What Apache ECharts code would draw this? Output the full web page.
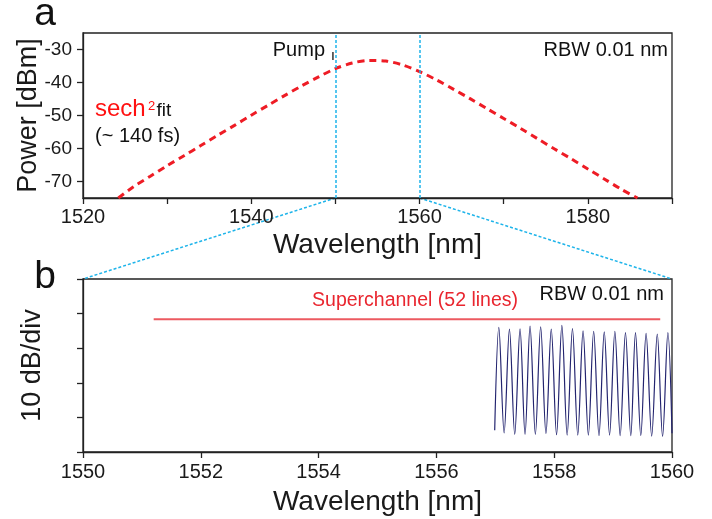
<!DOCTYPE html>
<html><head><meta charset="utf-8">
<script src="https://cdn.jsdelivr.net/npm/echarts@6/dist/echarts.min.js"></script>
<style>html,body{margin:0;padding:0;background:#fff}#c{width:712px;height:519px}</style>
</head><body><div id="c"></div>
<script>
// ---- Panel a: sech^2 fit (wavelength nm, power dBm) ----
const fitWavelength = [1524.2, 1526, 1528, 1530, 1532, 1534, 1536, 1538, 1540, 1542, 1544, 1546, 1548, 1550, 1552, 1554, 1556, 1558, 1560, 1562, 1564, 1566, 1568, 1570, 1572, 1574, 1576, 1578, 1580, 1582, 1584, 1585.9];
const fitPower = [-75.0, -71.6, -68.4, -65.2, -62.2, -59.1, -56.0, -53.0, -49.9, -46.9, -43.9, -41.0, -38.3, -35.8, -34.1, -33.3, -33.5, -34.7, -36.7, -39.2, -42.0, -44.9, -47.9, -50.9, -53.9, -57.0, -60.1, -63.1, -66.2, -69.3, -72.4, -75.0];
const pumpWavelengths = [1550, 1560];
const topXTicks = [1520, 1530, 1540, 1550, 1560, 1570, 1580, 1590];
const topXLabels = [1520, 1540, 1560, 1580];
const topYTicks = [-70, -60, -50, -40, -30];
const topXRange = [1520, 1590];
const topYRange = [-75, -25];

// ---- Panel b: superchannel (relative dB, 10 dB/div) ----
const bottomXRange = [1550, 1560];
const bottomYRange = [0, 50];
const superchannelWl = [1551.2, 1559.8];
const superchannelLevel = [38.4, 38.4];
const peakWl = [1557.06, 1557.24, 1557.42, 1557.59, 1557.77, 1557.95, 1558.13, 1558.31, 1558.49, 1558.67, 1558.85, 1559.03, 1559.21, 1559.38, 1559.56, 1559.75, 1559.93];
const peakLevel = [36.0, 35.5, 35.6, 36.4, 36.2, 35.5, 36.6, 35.7, 35.0, 34.9, 34.7, 34.9, 34.5, 34.5, 34.3, 34.1, 34.5];
const troughWl = [1557.15, 1557.33, 1557.505, 1557.68, 1557.86, 1558.04, 1558.22, 1558.40, 1558.58, 1558.76, 1558.94, 1559.12, 1559.30, 1559.47, 1559.655, 1559.84];
const troughLevel = [5.5, 5.1, 5.1, 5.1, 5.3, 5.0, 4.9, 4.9, 4.9, 4.7, 4.9, 4.7, 4.7, 4.7, 4.6, 4.5];
const spectrumStart = [1556.99, 6.3];
const spectrumEnd = [1560.0, 5.4];

const FONT = 'Liberation Sans, Arial, sans-serif';
const AX = '#222';

const fitData = fitWavelength.map((w, i) => [w, fitPower[i]]);
const spectrum = [spectrumStart];
peakWl.forEach((w, i) => {
  spectrum.push([w, peakLevel[i]]);
  if (i < troughWl.length) spectrum.push([troughWl[i], troughLevel[i]]);
});
spectrum.push(spectrumEnd);
const scData = superchannelWl.map((w, i) => [w, superchannelLevel[i]]);

const chart = echarts.init(document.getElementById('c'), null, {renderer: 'canvas'});

const axisCommon = {
  axisLine: {show: true, onZero: false, lineStyle: {color: AX, width: 1.3}},
  splitLine: {show: false},
  nameMoveOverlap: false
};
const plain = v => String(v);

chart.setOption({
  animation: false,
  backgroundColor: '#fff',
  textStyle: {fontFamily: FONT},
  grid: [
    {left: 83, top: 33, right: 40, height: 165, show: true, borderColor: AX, borderWidth: 1.3, containLabel: false},
    {left: 83, top: 279, right: 40, height: 173, show: true, borderColor: AX, borderWidth: 1.3, containLabel: false}
  ],
  xAxis: [
    Object.assign({}, axisCommon, {
      gridIndex: 0, type: 'value', min: topXRange[0], max: topXRange[1], interval: 10,
      axisTick: {show: true, inside: false, length: 6, lineStyle: {color: AX, width: 1.3}, customValues: topXTicks},
      axisLabel: {show: true, margin: 9, color: '#1a1a1a', fontSize: 20, fontFamily: FONT, customValues: topXLabels, formatter: plain},
      name: 'Wavelength [nm]', nameLocation: 'middle', nameGap: 33,
      nameTextStyle: {fontSize: 28, color: '#1a1a1a', fontFamily: FONT}
    }),
    Object.assign({}, axisCommon, {
      gridIndex: 1, type: 'value', min: bottomXRange[0], max: bottomXRange[1], interval: 2,
      axisTick: {show: true, inside: false, length: 6, lineStyle: {color: AX, width: 1.3}},
      axisLabel: {show: true, margin: 10, color: '#1a1a1a', fontSize: 20, fontFamily: FONT, formatter: plain},
      name: 'Wavelength [nm]', nameLocation: 'middle', nameGap: 36,
      nameTextStyle: {fontSize: 28, color: '#1a1a1a', fontFamily: FONT}
    })
  ],
  yAxis: [
    Object.assign({}, axisCommon, {
      gridIndex: 0, type: 'value', min: topYRange[0], max: topYRange[1], interval: 5,
      axisTick: {show: true, inside: false, length: 6, lineStyle: {color: AX, width: 1.3}, customValues: topYTicks},
      axisLabel: {show: true, margin: 11, color: '#1a1a1a', fontSize: 19, fontFamily: FONT, customValues: topYTicks, formatter: plain},
      name: 'Power [dBm]', nameLocation: 'middle', nameGap: 41,
      nameTextStyle: {fontSize: 27, color: '#1a1a1a', fontFamily: FONT}
    }),
    Object.assign({}, axisCommon, {
      gridIndex: 1, type: 'value', min: bottomYRange[0], max: bottomYRange[1], interval: 10,
      axisTick: {show: true, inside: false, length: 6, lineStyle: {color: AX, width: 1.3}},
      axisLabel: {show: false},
      name: '10 dB/div', nameLocation: 'middle', nameGap: 37,
      nameTextStyle: {fontSize: 27, color: '#1a1a1a', fontFamily: FONT}
    })
  ],
  series: [
    {
      type: 'line', xAxisIndex: 0, yAxisIndex: 0, data: fitData, smooth: 0.3,
      showSymbol: false, symbol: 'none',
      lineStyle: {color: '#ee1c25', width: 3, type: [7, 5]},
      markLine: {
        silent: true, symbol: 'none', label: {show: false},
        lineStyle: {color: '#1eb4ea', width: 1.5, type: [3, 2]},
        data: pumpWavelengths.map(w => ({xAxis: w}))
      },
      z: 3
    },
    {
      type: 'line', xAxisIndex: 1, yAxisIndex: 1, data: scData,
      showSymbol: false, symbol: 'none',
      lineStyle: {color: '#ec5a60', width: 2}
    },
    {
      type: 'line', xAxisIndex: 1, yAxisIndex: 1, data: spectrum, smooth: 0.35,
      showSymbol: false, symbol: 'none', clip: true,
      lineStyle: {color: '#23246f', width: 1.2}
    }
  ]
});

const a1 = chart.convertToPixel({xAxisIndex: 0, yAxisIndex: 0}, [pumpWavelengths[0], topYRange[0]]);
const a2 = chart.convertToPixel({xAxisIndex: 0, yAxisIndex: 0}, [pumpWavelengths[1], topYRange[0]]);
const b1 = chart.convertToPixel({xAxisIndex: 1, yAxisIndex: 1}, [bottomXRange[0], bottomYRange[1]]);
const b2 = chart.convertToPixel({xAxisIndex: 1, yAxisIndex: 1}, [bottomXRange[1], bottomYRange[1]]);
const pTop = chart.convertToPixel({xAxisIndex: 0, yAxisIndex: 0}, [pumpWavelengths[0], topYRange[1]]);

const dash = {stroke: '#1eb4ea', lineWidth: 1.5, lineDash: [3, 2]};
const txt = (x, y, text, size, color, align) => ({
  type: 'text', x: x, y: y, silent: true,
  style: {text: text, fontSize: size, fontFamily: FONT, fill: color, align: align || 'left', verticalAlign: 'middle'}
});

chart.setOption({
  graphic: {elements: [
    {type: 'line', silent: true, shape: {x1: a1[0], y1: a1[1], x2: b1[0], y2: b1[1]}, style: dash},
    {type: 'line', silent: true, shape: {x1: a2[0], y1: a2[1], x2: b2[0], y2: b2[1]}, style: dash},
    {type: 'line', silent: true, shape: {x1: pTop[0] - 2.5, y1: 52, x2: pTop[0] - 2.5, y2: 60}, style: {stroke: '#333', lineWidth: 1.5}},
    txt(45, 14, 'a', 39, '#111', 'center'),
    txt(45, 277, 'b', 39, '#111', 'center'),
    txt(325, 50, 'Pump', 20, '#111', 'right'),
    txt(668, 50, 'RBW 0.01 nm', 20, '#111', 'right'),
    txt(664, 294, 'RBW 0.01 nm', 20, '#111', 'right'),
    txt(518, 301, 'Superchannel (52 lines)', 19.5, '#e9262f', 'right'),
    txt(95, 109, 'sech', 24, '#ff1010', 'left'),
    txt(148, 106, '2', 13, '#ff1010', 'left'),
    txt(156.5, 110.4, 'fit', 19, '#111', 'left'),
    txt(95, 136.4, '(~ 140 fs)', 20, '#111', 'left')
  ]}
});
</script>
</body></html>
